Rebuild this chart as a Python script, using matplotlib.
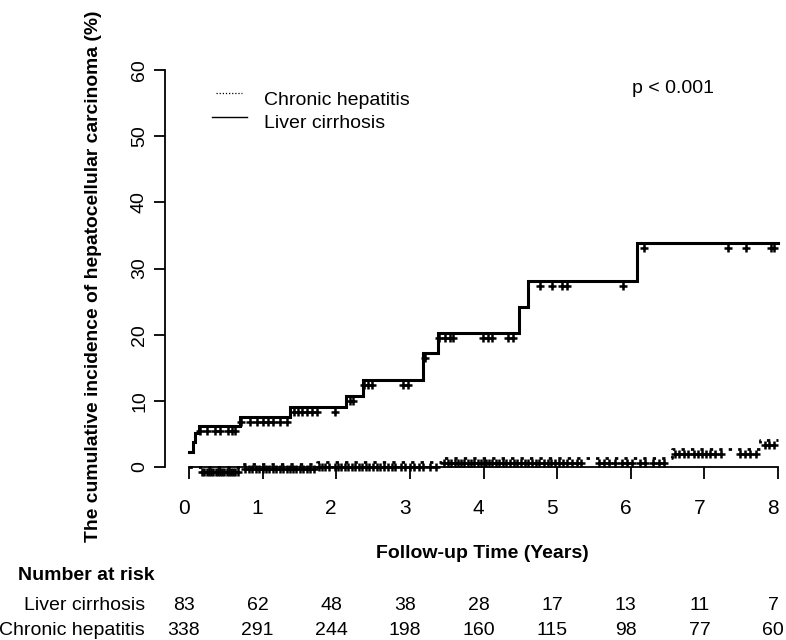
import numpy as np
import matplotlib
matplotlib.use('Agg')
import matplotlib.pyplot as plt
from matplotlib.path import Path
from matplotlib.lines import Line2D
import matplotlib.transforms as mtransforms

plt.rcParams['font.family'] = ['Liberation Sans', 'DejaVu Sans']

# ---------------- data ----------------
cirr_step_t = [0.0, 0.06, 0.08, 0.13, 0.69, 1.37, 2.13, 2.36, 3.18, 3.38, 4.48, 4.60, 6.09, 8.0]
cirr_step_v = [2.3, 3.8, 5.1, 6.2, 7.6, 9.1, 10.8, 13.2, 17.2, 20.2, 24.2, 28.1, 33.8, 33.8]
cirr_censor_t = [0.15, 0.24, 0.35, 0.42, 0.53, 0.58, 0.62, 0.70, 0.83, 0.92, 1.0, 1.07,
                 1.14, 1.24, 1.33, 1.42, 1.48, 1.53, 1.60, 1.67, 1.74, 1.98, 2.19, 2.23,
                 2.38, 2.43, 2.49, 2.91, 2.98, 3.20, 3.40, 3.48, 3.55, 3.59, 3.99, 4.06,
                 4.12, 4.33, 4.40, 4.77, 4.93, 5.07, 5.14, 5.90, 6.18, 7.32, 7.57, 7.91, 7.95]

chron_step_t = [0.0, 0.72, 1.74, 3.44, 6.56, 7.76, 8.0]
chron_step_v = [0.0, 0.4, 0.7, 1.4, 2.7, 4.1, 4.1]
chron_censor_t = [0.18, 0.21, 0.24, 0.27, 0.30, 0.33, 0.36, 0.39, 0.42, 0.45, 0.48, 0.51,
                  0.54, 0.57, 0.60, 0.63, 0.66,
                  0.76, 0.82, 0.86, 0.91, 0.95, 1.00, 1.04, 1.09, 1.14, 1.18, 1.24, 1.28,
                  1.33, 1.37, 1.41, 1.45, 1.51, 1.55, 1.60, 1.64, 1.70,
                  1.76, 1.80, 1.85, 1.90, 1.98, 2.02, 2.07, 2.12, 2.16, 2.22, 2.26, 2.31,
                  2.35, 2.40, 2.45, 2.50, 2.55, 2.60, 2.65, 2.70, 2.76, 2.80, 2.88, 2.93,
                  3.00, 3.05, 3.12, 3.18, 3.28, 3.36,
                  3.47, 3.52, 3.56, 3.61, 3.65, 3.70, 3.74, 3.79, 3.83, 3.87, 3.92, 3.96,
                  4.00, 4.04, 4.08, 4.12, 4.17, 4.21, 4.26, 4.31, 4.36, 4.41, 4.46, 4.51,
                  4.56, 4.61, 4.66, 4.71, 4.76, 4.82, 4.87, 4.92, 4.97, 5.03, 5.08, 5.14,
                  5.20, 5.27, 5.33, 5.57, 5.63, 5.70, 5.78, 5.88, 5.95, 6.02, 6.12,
                  6.20, 6.30, 6.38, 6.45,
                  6.60, 6.66, 6.72, 6.78, 6.86, 6.92, 6.97, 7.02, 7.08, 7.14, 7.22, 7.48,
                  7.55, 7.62, 7.70,
                  7.82, 7.88, 7.95]

years = [0, 1, 2, 3, 4, 5, 6, 7, 8]
year_labels = ['0', '1', '2', '3', '4', '5', '6', '7', '8']
yticks = [0, 10, 20, 30, 40, 50, 60]
ytick_labels = ['0', '10', '20', '30', '40', '50', '60']
risk_groups = ['Liver cirrhosis', 'Chronic hepatitis']
risk_cirr = [83, 62, 48, 38, 28, 17, 13, 11, 7]
risk_chron = [338, 291, 244, 198, 160, 115, 98, 77, 60]
legend_labels = ['Chronic hepatitis', 'Liver cirrhosis']
p_text = 'p < 0.001'
xlabel = 'Follow-up Time (Years)'
ylabel = 'The cumulative incidence of hepatocellular carcinoma (%)'

# ---------------- layout ----------------
W, H = 786, 640
DPI = 100
fig = plt.figure(figsize=(W / DPI, H / DPI), dpi=DPI)

x0px, x8px = 189.0, 778.0
ppy = (x8px - x0px) / 8.0
left_px, right_px = 165.0, 786.0
bot_px, top_px = 467.0, 70.0

ax = fig.add_axes([left_px / W, (H - bot_px) / H, (right_px - left_px) / W, (bot_px - top_px) / H])
ax.set_xlim((left_px - x0px) / ppy, (right_px - x0px) / ppy)
ax.set_ylim(0, 60)

for s in ['top', 'right']:
    ax.spines[s].set_visible(False)
ax.spines['left'].set_bounds(0, 60)
ax.spines['bottom'].set_bounds(0, 8)
for s in ['left', 'bottom']:
    ax.spines[s].set_linewidth(1.3)

ax.set_xticks(years)
ax.set_yticks(yticks)
ax.tick_params(axis='x', length=8.6, width=1.3, direction='out', labelbottom=False)
ax.tick_params(axis='y', length=8.0, width=1.3, direction='out', labelleft=False)

# censor marker: '+' drawn slightly below the curve value
plus_path = Path([(-1, -1.2), (1, -1.2), (0, -0.2), (0, -2.2)],
                 [Path.MOVETO, Path.LINETO, Path.MOVETO, Path.LINETO])


def step_value(ts, vs, t):
    idx = np.searchsorted(np.asarray(ts), np.asarray(t), side='right') - 1
    return np.asarray(vs)[idx]


# curves
ax.plot(chron_step_t, chron_step_v, drawstyle='steps-post', color='black', lw=2.0,
        linestyle=(0, (1.2, 2.2)), clip_on=False, solid_capstyle='butt')
ax.plot(cirr_step_t, cirr_step_v, drawstyle='steps-post', color='black', lw=2.2,
        clip_on=False, solid_joinstyle='miter')

ax.plot(chron_censor_t, step_value(chron_step_t, chron_step_v, chron_censor_t),
        linestyle='none', marker=plus_path, markersize=12.7, markeredgewidth=1.8,
        color='black', clip_on=False)
ax.plot(cirr_censor_t, step_value(cirr_step_t, cirr_step_v, cirr_censor_t),
        linestyle='none', marker=plus_path, markersize=12.7, markeredgewidth=1.8,
        color='black', clip_on=False)

# ---------------- text ----------------
FS = 14
shift = mtransforms.ScaledTranslation(-5 / DPI, 0, fig.dpi_scale_trans)
xfig = mtransforms.blended_transform_factory(ax.transData, fig.transFigure) + shift
yfig = mtransforms.blended_transform_factory(fig.transFigure, ax.transData)


def fy(px):
    return 1 - px / H


def fx(px):
    return px / W


for t, lab in zip(years, year_labels):
    ax.text(t, fy(514), lab, transform=xfig, ha='center', va='baseline', fontsize=15)

for v, lab in zip(yticks, ytick_labels):
    ax.text(fx(144), v, lab, transform=yfig, rotation=90, rotation_mode='anchor',
            ha='center', va='baseline', fontsize=14)

fig.text(fx(482), fy(558), xlabel, ha='center', va='baseline', fontsize=FS, fontweight='bold')
fig.text(fx(98), fy(542), ylabel, rotation=90, rotation_mode='anchor',
         ha='left', va='baseline', fontsize=13.9, fontweight='bold')

fig.text(fx(18), fy(580), 'Number at risk', ha='left', va='baseline', fontsize=FS,
         fontweight='bold')
row_base = [610, 635]
for name, vals, yb in zip(risk_groups, [risk_cirr, risk_chron], row_base):
    fig.text(fx(145), fy(yb), name, ha='right', va='baseline', fontsize=FS)
    for t, n in zip(years, vals):
        ax.text(t, fy(yb), str(n), transform=xfig, ha='center', va='baseline', fontsize=FS)

fig.text(fx(673), fy(93), p_text, ha='center', va='baseline', fontsize=FS)

# legend (manual)
fig.add_artist(Line2D([fx(216), fx(242)], [fy(93.3), fy(93.3)], color='black', lw=0.9,
                      linestyle=(0, (1, 1.5))))
fig.add_artist(Line2D([fx(212), fx(247)], [fy(116.7), fy(116.7)], color='black', lw=1.0))
fig.text(fx(264), fy(105), legend_labels[0], ha='left', va='baseline', fontsize=FS)
fig.text(fx(264), fy(128), legend_labels[1], ha='left', va='baseline', fontsize=FS)

fig.savefig('out.png', dpi=DPI)
